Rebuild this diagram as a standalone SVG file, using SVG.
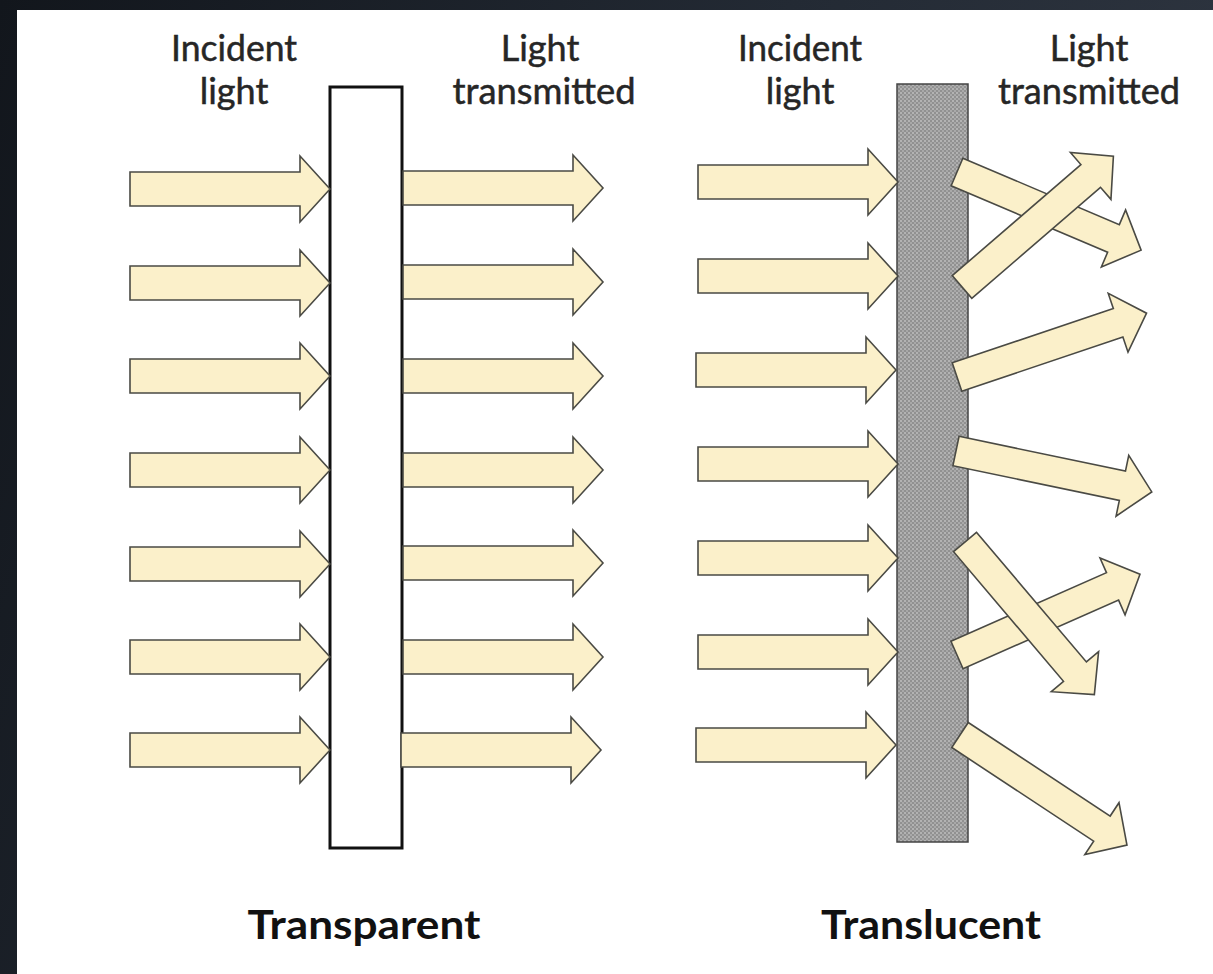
<svg xmlns="http://www.w3.org/2000/svg" xmlns:xlink="http://www.w3.org/1999/xlink" width="1213" height="974" viewBox="0 0 1213 974">
  <defs>
    <linearGradient id="bg" x1="0" y1="0" x2="1" y2="0.3">
      <stop offset="0" stop-color="#12161c"/>
      <stop offset="0.6" stop-color="#232a34"/>
      <stop offset="1" stop-color="#2e3540"/>
    </linearGradient>
    <pattern id="dots" width="4" height="4" patternUnits="userSpaceOnUse">
      <rect width="4" height="4" fill="#919191"/>
      <circle cx="1" cy="1" r="0.8" fill="#dedede"/>
      <circle cx="3" cy="3" r="0.8" fill="#c8c8c8"/>
    </pattern>
    <path id="harrow" d="M0,-17 H170 V-33 L200,0 L170,33 V17 H0 Z"/>
    <path id="darrow" d="M0,-15 H170 V-31 L200,0 L170,31 V15 H0 Z"/>
  </defs>
  <style>
    .arr { fill: #fbf0ca; stroke: #4a4a44; stroke-width: 1.6; stroke-linejoin: miter; }
    .lbl { font-family: Lato, "Open Sans", "Liberation Sans", sans-serif; font-size: 36px; fill: #262626; stroke: #262626; stroke-width: 0.5; text-anchor: middle; }
    .ttl { font-family: Lato, "Open Sans", "Liberation Sans", sans-serif; font-size: 40px; font-weight: bold; fill: #111; text-anchor: middle; }
  </style>

  <rect x="0" y="0" width="1213" height="974" fill="url(#bg)"/>
  <rect x="17" y="10" width="1196" height="964" fill="#ffffff"/>

  <g id="label-incident-left">
    <text class="lbl" x="234" y="61" textLength="126" lengthAdjust="spacingAndGlyphs">Incident</text>
    <text class="lbl" x="234" y="104">light</text>
  </g>
  <g id="label-transmitted-left">
    <text class="lbl" x="540" y="61">Light</text>
    <text class="lbl" x="544" y="104" textLength="183" lengthAdjust="spacingAndGlyphs">transmitted</text>
  </g>
  <g id="label-incident-right">
    <text class="lbl" x="800" y="61" textLength="124" lengthAdjust="spacingAndGlyphs">Incident</text>
    <text class="lbl" x="800" y="104">light</text>
  </g>
  <g id="label-transmitted-right">
    <text class="lbl" x="1089" y="61">Light</text>
    <text class="lbl" x="1089" y="104" textLength="182" lengthAdjust="spacingAndGlyphs">transmitted</text>
  </g>

  <g id="slab-transparent">
    <rect x="330" y="87" width="72" height="761" fill="#ffffff" stroke="#111" stroke-width="3"/>
  </g>
  <g id="slab-translucent">
    <rect x="897" y="84" width="71" height="758" fill="url(#dots)" stroke="#444" stroke-width="1.5"/>
  </g>

  <g id="arrows">
    <g id="incident-left">
      <use xlink:href="#harrow" class="arr" transform="translate(130,189)"/>
      <use xlink:href="#harrow" class="arr" transform="translate(130,283)"/>
      <use xlink:href="#harrow" class="arr" transform="translate(130,376)"/>
      <use xlink:href="#harrow" class="arr" transform="translate(130,470)"/>
      <use xlink:href="#harrow" class="arr" transform="translate(130,564)"/>
      <use xlink:href="#harrow" class="arr" transform="translate(130,657)"/>
      <use xlink:href="#harrow" class="arr" transform="translate(130,750)"/>
    </g>
    <g id="transmitted-left">
      <use xlink:href="#harrow" class="arr" transform="translate(403,188)"/>
      <use xlink:href="#harrow" class="arr" transform="translate(403,282)"/>
      <use xlink:href="#harrow" class="arr" transform="translate(403,376)"/>
      <use xlink:href="#harrow" class="arr" transform="translate(403,470)"/>
      <use xlink:href="#harrow" class="arr" transform="translate(403,563)"/>
      <use xlink:href="#harrow" class="arr" transform="translate(403,657)"/>
      <use xlink:href="#harrow" class="arr" transform="translate(401,750)"/>
    </g>
    <g id="incident-right">
      <use xlink:href="#harrow" class="arr" transform="translate(698,182)"/>
      <use xlink:href="#harrow" class="arr" transform="translate(698,276)"/>
      <use xlink:href="#harrow" class="arr" transform="translate(696,370)"/>
      <use xlink:href="#harrow" class="arr" transform="translate(698,464)"/>
      <use xlink:href="#harrow" class="arr" transform="translate(698,558)"/>
      <use xlink:href="#harrow" class="arr" transform="translate(698,652)"/>
      <use xlink:href="#harrow" class="arr" transform="translate(696,745)"/>
    </g>
    <g id="transmitted-right">
      <use xlink:href="#darrow" class="arr" transform="translate(957,172) rotate(23)"/>
      <use xlink:href="#darrow" class="arr" transform="translate(962,287) rotate(-40.8)"/>
      <use xlink:href="#darrow" class="arr" transform="translate(957,377) rotate(-18.6)"/>
      <use xlink:href="#darrow" class="arr" transform="translate(956,451) rotate(11.8)"/>
      <use xlink:href="#darrow" class="arr" transform="translate(957,655) rotate(-23.8)"/>
      <use xlink:href="#darrow" class="arr" transform="translate(965,542) rotate(49.7)"/>
      <use xlink:href="#darrow" class="arr" transform="translate(960,735) rotate(33.4)"/>
    </g>
  </g>

  <g id="title-transparent">
    <text class="ttl" x="364" y="939" textLength="233" lengthAdjust="spacingAndGlyphs">Transparent</text>
  </g>
  <g id="title-translucent">
    <text class="ttl" x="931" y="939" textLength="220" lengthAdjust="spacingAndGlyphs">Translucent</text>
  </g>
</svg>
